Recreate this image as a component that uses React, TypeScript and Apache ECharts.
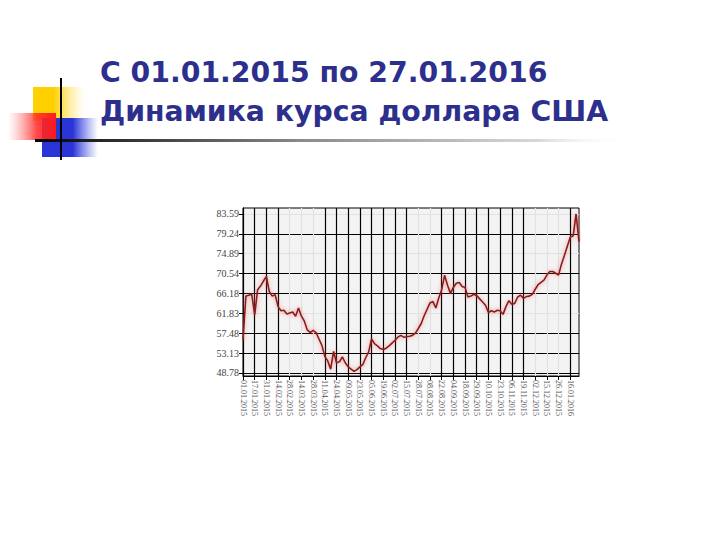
import React, { useEffect, useRef } from "react";
import * as echarts from "echarts";

// Title lines
const titleLine1 = "С 01.01.2015 по 27.01.2016";
const titleLine2 = "Динамика курса доллара США";

// X axis tick labels (one every 4 points)
const xTickLabels = [
  "01.01.2015", "17.01.2015", "31.01.2015", "14.02.2015", "28.02.2015",
  "14.03.2015", "28.03.2015", "11.04.2015", "24.04.2015", "09.05.2015",
  "23.05.2015", "05.06.2015", "19.06.2015", "02.07.2015", "15.07.2015",
  "28.07.2015", "08.08.2015", "22.08.2015", "04.09.2015", "18.09.2015",
  "29.09.2015", "10.10.2015", "23.10.2015", "06.11.2015", "19.11.2015",
  "02.12.2015", "15.12.2015", "26.12.2015", "16.01.2016",
];
const pointsPerTick = 4;

// Y axis tick values
const yTicks = [48.78, 53.13, 57.48, 61.83, 66.18, 70.54, 74.89, 79.24, 83.59];

// USD/RUB rate readings
const usdRub = [
  56.0, 65.6, 65.8, 66.0, 61.5, 67.0, 67.8, 68.9, 69.9, 66.6,
  65.6, 65.9, 63.3, 62.4, 62.5, 61.7, 61.9, 62.1, 61.2, 63.0,
  61.2, 60.1, 58.2, 57.6, 58.1, 57.6, 56.2, 54.8, 52.4, 51.4,
  49.6, 53.5, 51.0, 51.2, 52.3, 51.0, 50.1, 49.6, 49.1, 49.5,
  50.1, 50.6, 52.1, 53.4, 56.2, 55.2, 54.7, 54.1, 53.9, 54.2,
  54.7, 55.3, 55.9, 56.6, 57.0, 56.6, 56.7, 56.8, 57.0, 57.5,
  58.5, 59.6, 61.3, 62.7, 64.1, 64.4, 63.0, 65.2, 67.0, 70.2,
  68.0, 66.2, 67.5, 68.4, 68.6, 67.7, 67.5, 65.4, 65.6, 66.0,
  65.7, 65.0, 64.3, 63.6, 62.0, 62.4, 62.1, 62.5, 62.4, 61.6,
  63.3, 64.6, 63.8, 64.0, 65.4, 65.8, 65.1, 65.5, 65.6, 66.0,
  67.1, 68.1, 68.6, 69.1, 70.2, 71.0, 71.0, 70.6, 70.2, 72.6,
  74.5, 76.5, 78.5, 78.8, 83.59, 77.5,
];

// Which vertical grid lines are drawn dark (1) or faint (0), one per x tick
const xLineDark = [
  1, 1, 1, 1, 0, 0, 0, 1, 1, 1, 1, 1, 1, 1, 1, 0, 0, 1, 1, 1,
  1, 1, 1, 1, 1, 0, 0, 0, 1,
];
// Same for horizontal lines, one per y tick
const yLineDark = [1, 1, 1, 0, 1, 1, 0, 1, 0];

export default function App() {
  const ref = useRef<HTMLDivElement>(null);

  useEffect(() => {
    if (!ref.current) return;
    const chart = echarts.init(ref.current, undefined, { renderer: "svg" });

    const categories = usdRub.map((_, i) =>
      i % pointsPerTick === 0 ? xTickLabels[i / pointsPerTick] : `d${i}`
    );
    const dark = "#000000";
    const faint = "#E2E2E2";

    const hGrad = (stops: [number, string][]) => ({
      type: "linear",
      x: 0,
      y: 0,
      x2: 1,
      y2: 0,
      colorStops: stops.map(([offset, color]) => ({ offset, color })),
    });

    chart.setOption({
      animation: false,
      backgroundColor: "#ffffff",
      grid: {
        left: 243,
        top: 208,
        width: 336,
        height: 168,
        show: true,
        backgroundColor: "#F3F3F3",
        borderColor: "#000",
        borderWidth: 1,
      },
      xAxis: {
        type: "category",
        boundaryGap: false,
        data: categories,
        axisLine: { lineStyle: { color: "#000", width: 1 } },
        axisTick: {
          show: true,
          length: 4,
          interval: (i: number) => i % pointsPerTick === 0,
          lineStyle: { color: "#000" },
        },
        axisLabel: {
          interval: (i: number) => i % pointsPerTick === 0,
          rotate: -90,
          fontFamily: "Liberation Serif",
          fontSize: 8,
          color: "#555",
          margin: 4,
        },
        splitLine: {
          show: true,
          interval: (i: number) => i % pointsPerTick === 0,
          lineStyle: {
            color: xLineDark.map((d) => (d ? dark : faint)),
            width: 1.2,
          },
        },
      },
      yAxis: {
        type: "value",
        min: 48.1,
        max: 84.9,
        axisLine: { show: true, lineStyle: { color: "#000" } },
        axisTick: {
          show: true,
          length: 4,
          customValues: yTicks,
          lineStyle: { color: "#000" },
        },
        axisLabel: {
          customValues: yTicks,
          formatter: (v: number) => v.toFixed(2),
          fontFamily: "Liberation Serif",
          fontSize: 10,
          color: "#444",
          margin: 4,
        },
        splitLine: {
          show: true,
          lineStyle: {
            color: yLineDark.map((d) => (d ? dark : faint)),
            width: 1.2,
          },
        },
      },
      series: [
        {
          type: "line",
          data: usdRub,
          symbol: "none",
          z: 5,
          lineStyle: {
            color: "#8B1A1A",
            width: 1.6,
            shadowColor: "rgba(235,90,90,0.7)",
            shadowBlur: 4,
          },
        },
      ],
      graphic: [
        {
          type: "rect",
          shape: { x: 33, y: 87, width: 52, height: 34 },
          style: {
            fill: hGrad([
              [0, "#FFD000"],
              [0.4, "#FFD000"],
              [1, "rgba(255,230,120,0)"],
            ]),
          },
        },
        {
          type: "rect",
          shape: { x: 42, y: 118, width: 56, height: 39 },
          style: {
            fill: hGrad([
              [0, "#2A35D8"],
              [0.55, "#2A35D8"],
              [1, "rgba(80,90,230,0)"],
            ]),
          },
        },
        {
          type: "rect",
          shape: { x: 8, y: 113, width: 48, height: 27 },
          style: {
            fill: hGrad([
              [0, "rgba(255,120,120,0)"],
              [0.6, "rgba(255,40,40,0.85)"],
              [1, "#FF1A1A"],
            ]),
          },
        },
        {
          type: "rect",
          shape: { x: 35, y: 139, width: 592, height: 3 },
          style: {
            fill: hGrad([
              [0, "#000000"],
              [0.1, "#222222"],
              [0.45, "#8A8A8A"],
              [0.85, "#D8D8D8"],
              [1, "rgba(255,255,255,0)"],
            ]),
          },
        },
        {
          type: "rect",
          shape: { x: 60, y: 78, width: 2, height: 82 },
          style: { fill: "#000" },
        },
        {
          type: "text",
          x: 100,
          y: 72,
          style: {
            text: titleLine1,
            font: 'bold 28.3px "DejaVu Sans"',
            fill: "#2D2F8C",
            verticalAlign: "middle",
          },
        },
        {
          type: "text",
          x: 100,
          y: 111,
          style: {
            text: titleLine2,
            font: 'bold 28.3px "DejaVu Sans"',
            fill: "#2D2F8C",
            verticalAlign: "middle",
          },
        },
      ],
    });

    return () => chart.dispose();
  }, []);

  return (
    <div
      ref={ref}
      style={{ position: "fixed", left: 0, top: 0, width: 720, height: 540 }}
    />
  );
}
